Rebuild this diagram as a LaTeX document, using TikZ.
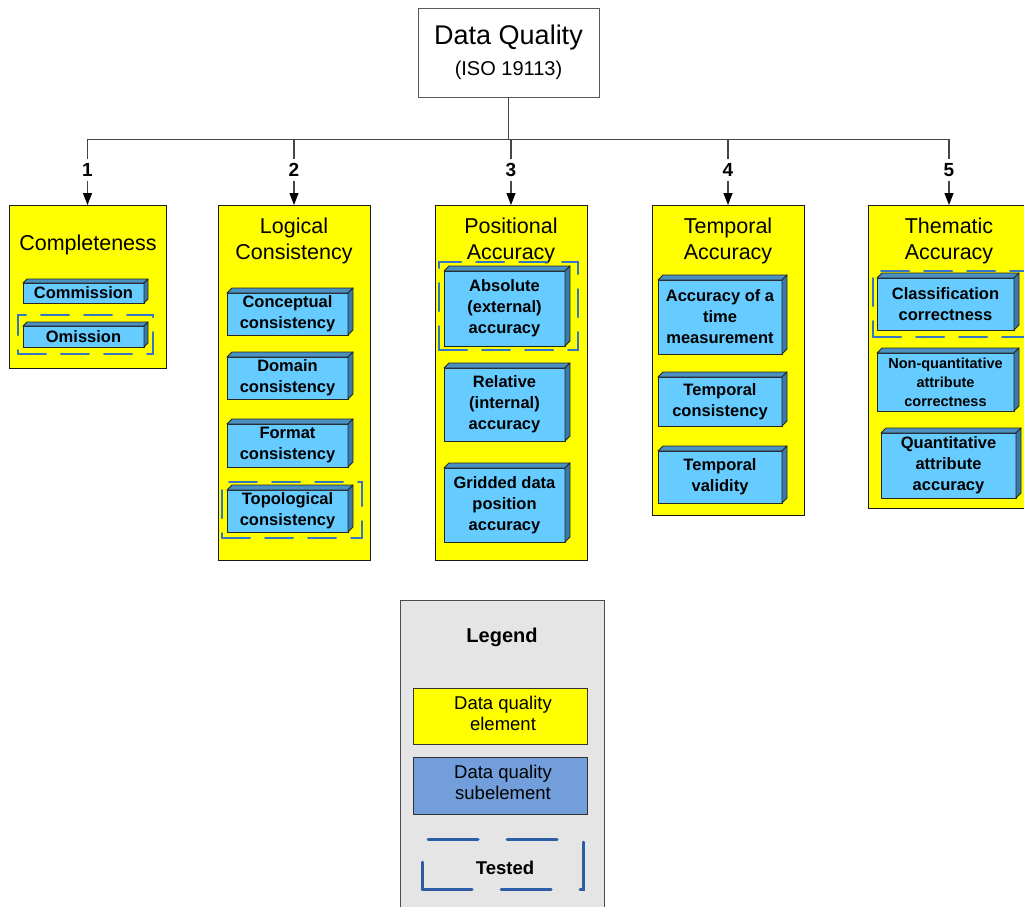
\documentclass[tikz,border=0pt]{standalone}
\usepackage{fontspec}
\setmainfont{Liberation Sans}
\usetikzlibrary{arrows.meta}
\definecolor{elemyellow}{RGB}{255,255,0}
\definecolor{subfront}{RGB}{102,204,255}
\definecolor{subtop}{RGB}{74,144,192}
\definecolor{subside}{RGB}{58,122,168}
\definecolor{testblue}{RGB}{52,118,196}
\definecolor{legdash}{RGB}{46,93,168}
\definecolor{legblue}{RGB}{114,159,219}
\definecolor{leggray}{RGB}{229,229,229}
\definecolor{linegray}{RGB}{70,70,70}
\tikzset{
  rootbox/.style={draw=black!65, line width=1pt, fill=white, outer sep=0pt, inner sep=0pt},
  elem/.style={draw=black!90, line width=1pt, fill=elemyellow, outer sep=0pt, inner sep=0pt},
  elemtitle/.style={font=\fontsize{21.5}{26}\selectfont, align=center, inner sep=0pt},
  sub/.style={draw=black!85, line width=0.9pt, fill=subfront, outer sep=0pt, inner sep=0pt,
    align=center, font=\fontsize{16.5}{21}\selectfont\bfseries},
  smallsub/.style={sub, font=\fontsize{14.5}{19}\selectfont\bfseries},
  facetop/.style={fill=subtop, draw=black!85, line width=0.9pt, line join=round},
  faceside/.style={fill=subside, draw=black!85, line width=0.9pt, line join=round},
  testedbox/.style={draw=testblue, line width=2pt, dash pattern=on 28pt off 15pt,
    line cap=round, outer sep=0pt, inner sep=0pt},
  numlabel/.style={font=\fontsize{19}{21}\selectfont\bfseries, inner sep=0pt, minimum height=22pt},
  link/.style={draw=linegray, line width=1.3pt},
  arrowlink/.style={link, -{Triangle[length=12pt,width=9pt,color=black]}},
  legendbox/.style={draw=black!70, line width=1pt, fill=leggray, outer sep=0pt, inner sep=0pt},
  legitem/.style={draw=black!80, line width=1pt, outer sep=0pt, inner sep=0pt},
  legtext/.style={align=center, inner sep=0pt, font=\fontsize{18.5}{21}\selectfont},
  legtested/.style={draw=legdash, line width=3pt, dash pattern=on 50pt off 29pt, line cap=round,
    outer sep=0pt, inner sep=0pt},
}
\begin{document}
\begin{tikzpicture}[x=1pt,y=-1pt]
\useasboundingbox (0,0) rectangle (1024,906);
\clip (0,0) rectangle (1024,906);

% root
\node[rootbox, minimum width=181pt, minimum height=89pt] (root) at (508.5,52.5) {};
\node[font=\fontsize{27}{30}\selectfont, inner sep=0pt] (rootname) at (508.5,37.5) {Data Quality};
\node[font=\fontsize{20}{24}\selectfont, inner sep=0pt] (rootiso) at (508.5,70) {(ISO 19113)};

% data quality elements
\node[elem, minimum width=157pt, minimum height=163pt] (e1) at (87.5,286.5) {};
\node[elem, minimum width=152pt, minimum height=355pt] (e2) at (294,382.5) {};
\node[elem, minimum width=152pt, minimum height=355pt] (e3) at (511,382.5) {};
\node[elem, minimum width=152pt, minimum height=310pt] (e4) at (728,360) {};
\node[elem, minimum width=162pt, minimum height=303pt] (e5) at (949,356.5) {};

\node[elemtitle] (t1) at (88,245) {Completeness};
\node[elemtitle] (t2) at (294,241) {Logical\\Consistency};
\node[elemtitle] (t3) at (511,241) {Positional\\Accuracy};
\node[elemtitle] (t4) at (728,241) {Temporal\\Accuracy};
\node[elemtitle] (t5) at (949,241) {Thematic\\Accuracy};

% tested markers
\node[testedbox, minimum width=135pt, minimum height=39pt] (d1) at (85.5,334.5) {};
\node[testedbox, minimum width=140pt, minimum height=56pt] (d2) at (292,510) {};
\node[testedbox, minimum width=139pt, minimum height=88pt] (d3) at (508.5,306) {};
\node[testedbox, minimum width=157pt, minimum height=66pt] (d5) at (951.5,304) {};

% subelements
\node[sub, minimum width=121pt, minimum height=20pt] (c1) at (83.5,293) {Commission};
\node[sub, minimum width=121pt, minimum height=21pt] (c2) at (83.5,336.5) {Omission};

\node[sub, minimum width=121pt, minimum height=42pt] (l1) at (287.5,314) {Conceptual\\consistency};
\node[sub, minimum width=121pt, minimum height=42pt] (l2) at (287.5,378) {Domain\\consistency};
\node[sub, minimum width=121pt, minimum height=43pt] (l3) at (287.5,445.5) {Format\\consistency};
\node[sub, minimum width=121pt, minimum height=42pt] (l4) at (287.5,511) {Topological\\consistency};

\node[sub, minimum width=121pt, minimum height=75pt] (p1) at (504.5,308.5) {Absolute\\(external)\\accuracy};
\node[sub, minimum width=121pt, minimum height=73pt] (p2) at (504.5,404.5) {Relative\\(internal)\\accuracy};
\node[sub, minimum width=121pt, minimum height=74pt] (p3) at (504.5,505) {Gridded data\\position\\accuracy};

\node[sub, minimum width=124pt, minimum height=74pt] (m1) at (720,317) {Accuracy of a\\time\\measurement};
\node[sub, minimum width=124pt, minimum height=49pt] (m2) at (720,401.5) {Temporal\\consistency};
\node[sub, minimum width=124pt, minimum height=52pt] (m3) at (720,477) {Temporal\\validity};

\node[sub, minimum width=137pt, minimum height=52pt] (h1) at (945.5,304) {Classification\\correctness};
\node[smallsub, minimum width=137pt, minimum height=58pt] (h2) at (945.5,382) {Non-quantitative\\attribute\\correctness};
\node[sub, minimum width=135pt, minimum height=65pt] (h3) at (948.5,465.5) {Quantitative\\attribute\\accuracy};

% raised top and side faces of the subelement blocks
\foreach \n/\d in {c1/4,c2/4,l1/5,l2/5,l3/5,l4/5,p1/5,p2/5,p3/5,m1/5,m2/5,m3/5,h1/5,h2/5,h3/5}{
  \path[facetop] (\n.north west) -- ++(\d,-\d) -- ([shift={(\d,-\d)}]\n.north east) -- (\n.north east) -- cycle;
  \path[faceside] (\n.north east) -- ([shift={(\d,-\d)}]\n.north east) -- ([shift={(\d,-\d)}]\n.south east) -- (\n.south east) -- cycle;
}

% tree connectors
\coordinate (bus) at (508.5,139.5);
\path (e1.north |- bus) coordinate (b1);
\path (e2.north |- bus) coordinate (b2);
\path (e3.north |- bus) coordinate (b3);
\path (e4.north |- bus) coordinate (b4);
\path (e5.north |- bus) coordinate (b5);
\draw[link] (root.south) -- (bus);
\draw[link, line cap=rect] (b1) -- (b5);

\node[numlabel] (n1) at (87.5,170) {1};
\node[numlabel] (n2) at (294,170) {2};
\node[numlabel] (n3) at (511,170) {3};
\node[numlabel] (n4) at (728,170) {4};
\node[numlabel] (n5) at (949,170) {5};

\foreach \i in {1,...,5}{
  \draw[link] (b\i) -- (n\i.north);
  \draw[arrowlink] (n\i.south) -- (e\i.north);
}

% legend
\node[legendbox, minimum width=204pt, minimum height=320pt] (legend) at (502,760) {};
\node[font=\fontsize{20}{24}\selectfont\bfseries, inner sep=0pt] (legtitle) at (502,637) {Legend};
\node[legitem, fill=elemyellow, minimum width=174pt, minimum height=56pt] (legelem) at (500,716) {};
\node[legtext] (legelemtext) at (503,713) {Data quality\\element};
\node[legitem, fill=legblue, minimum width=174pt, minimum height=57pt] (legsub) at (500,785.5) {};
\node[legtext] (legsubtext) at (503,782) {Data quality\\subelement};
\node[legtested, minimum width=161pt, minimum height=50pt] (legtest) at (502.5,864) {};
\node[font=\fontsize{18.5}{21}\selectfont\bfseries, inner sep=0pt] (legtesttext) at (505,868) {Tested};
\end{tikzpicture}
\end{document}
